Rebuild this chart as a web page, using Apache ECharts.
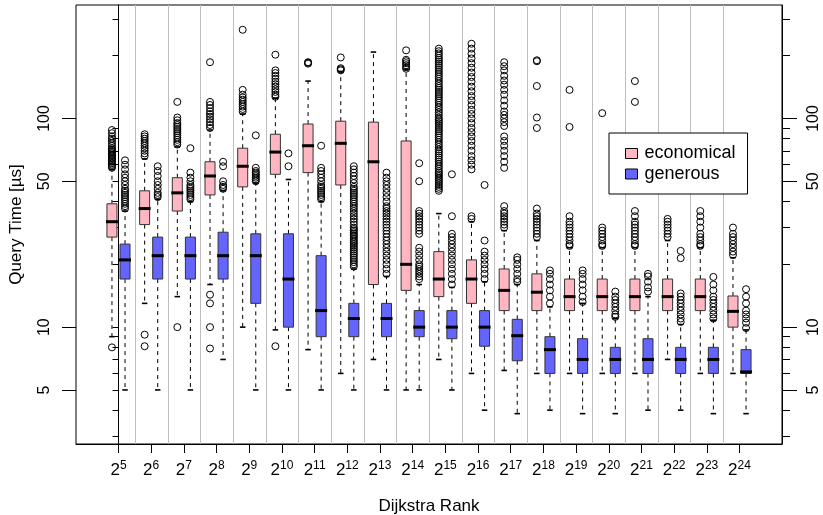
<!DOCTYPE html>
<html><head><meta charset="utf-8">
<script src="https://cdn.jsdelivr.net/npm/echarts@6/dist/echarts.min.js"></script>
<style>html,body{margin:0;padding:0;background:#fff}#c{width:823px;height:515px}</style>
</head><body><div id="c"></div>
<script>
// ---- data ----
const rankExponents = [5,6,7,8,9,10,11,12,13,14,15,16,17,18,19,20,21,22,23,24];
const seriesNames = ['economical', 'generous'];

const econLow  = [9, 13, 14, 16, 10, 9.7, 7.8, 6, 7, 5, 7, 6, 6.2, 6, 6, 6, 6, 7, 6, 6];
const econQ1   = [27, 31, 36, 43, 47, 54, 55, 48, 16, 15, 14, 13, 12, 12, 12, 12, 12, 12, 12, 10];
const econMed  = [32, 37, 44, 53, 59, 69, 74, 76, 62, 20, 17, 17, 15, 14.7, 14, 14, 14, 14, 14, 11.9];
const econQ3   = [39, 45, 52, 62, 72, 84, 94, 97, 96, 78, 23, 21, 19, 18, 17, 17, 17, 17, 17, 14.1];
const econHigh = [57, 64, 73, 88, 105, 125, 151, 168, 208, 172, 35, 32, 29, 26, 24, 24, 24, 26, 24, 21.5];

const genLow  = [5, 5, 5, 7, 5, 5, 5, 5, 5, 5, 5, 4, 3.85, 4, 3.85, 3.85, 4, 4, 3.85, 3.85];
const genQ1   = [17, 17, 17, 17, 13, 10, 9, 9, 9, 9, 8.8, 8.1, 6.9, 6, 6, 6, 6, 6, 6, 6];
const genMed  = [21, 22, 22, 22, 22, 17, 12, 11, 11, 10, 10, 10, 9.1, 7.8, 7, 7, 7, 7, 7, 6.1];
const genQ3   = [25, 27, 27, 28.5, 28, 28, 22, 13, 13, 12, 12, 12, 10.9, 9, 8.8, 8, 8.8, 8, 8, 7.8];
const genHigh = [36, 41, 40, 45, 49, 51, 40, 19, 17.5, 16, 15.5, 16.5, 16, 12.5, 13, 11, 14, 10.3, 10.8, 9.7];

const econOutliers = [
  [8, 58, 59, 60, 61, 62, 63, 64, 65, 66, 67, 68, 69, 70, 71, 72, 74, 76, 78, 80, 82, 85, 88],
  [8.1, 9.2, 66, 68, 70, 72, 74, 76, 78, 80, 82, 84],
  [10, 75, 77, 79, 81, 83, 85, 87, 89, 91, 93, 95, 98, 101, 120],
  [7.9, 10, 13, 14.3, 90, 93, 96, 99, 102, 105, 108, 112, 116, 120, 186],
  [108, 111, 114, 117, 120, 123, 126, 130, 137, 266],
  [8.1, 127, 130, 134, 138, 142, 146, 150, 155, 160, 165, 170, 202],
  [183, 185, 186],
  [170, 172, 174, 196],
  [],
  [173, 176, 180, 184, 188, 191, 212],
  [45, 46, 47, 48, 49, 50, 51, 52, 53, 54, 55, 56, 57.5, 59, 60.5, 62, 63.5, 65, 66.5, 68, 69.5, 71, 73, 75, 77, 79, 81, 83, 85, 87, 89, 91, 93, 95, 97, 99, 101, 104, 107, 110, 113, 116, 119, 122, 125, 128, 131, 134, 137, 140, 143, 147, 151, 155, 159, 163, 167, 171, 175, 179, 183, 187, 191, 195, 200, 205, 210, 216],
  [33, 34, 57, 60, 63, 66, 70, 74, 78, 82, 86, 90, 95, 100, 105, 110, 116, 122, 128, 135, 142, 150, 158, 166, 175, 184, 194, 204, 216, 228],
  [30, 31, 32, 33, 34, 35, 36, 38, 58, 62, 66, 70, 74, 78, 82, 92, 96, 100, 104, 108, 115, 122, 130, 137, 145, 152, 160, 170, 178, 186],
  [27, 28, 29, 30, 31, 32, 33, 34, 35, 37, 90, 101, 143, 188, 190],
  [24.5, 25, 26, 27, 28, 29, 30, 31, 32, 34, 91, 137],
  [24.5, 25, 26, 27, 28, 29, 30, 106],
  [24.5, 25, 26, 27, 28, 29, 30, 31, 32, 34, 36, 120, 151],
  [27, 28, 29, 30, 31, 32, 33],
  [24.5, 25, 26, 27, 28, 30, 32, 34, 36],
  [22.2, 23, 24, 25, 26, 27, 28, 30]
];
const genOutliers = [
  [37, 38, 39, 40, 41, 42, 43, 44, 45, 46, 48, 50, 52, 54, 57, 60, 63],
  [42, 43, 44, 46, 48, 50, 53, 56, 59],
  [41, 42, 43, 44, 45, 46, 47, 48, 50, 52, 55, 72],
  [46, 47, 48, 50, 59, 62],
  [50, 51, 52, 53, 54, 55, 56, 58, 83],
  [59, 68],
  [41, 42, 43, 44, 45, 46, 47, 48, 50, 52, 54, 56, 58, 74],
  [19.5, 20, 20.5, 21, 21.5, 22, 22.5, 23, 23.5, 24, 24.5, 25, 25.5, 26, 26.5, 27, 27.5, 28, 28.5, 29, 29.5, 30, 31, 32, 33, 34, 35, 36, 37, 38, 39, 40, 41, 42, 43, 44, 45, 46, 47, 49, 51, 53, 55, 57, 59],
  [18, 19, 20, 21, 22, 23, 24, 25, 26, 27, 28, 29, 30, 31, 32, 33, 34, 35, 36, 37, 38, 40, 42, 44, 46, 48, 50, 52, 55],
  [17, 17.5, 18, 18.5, 19, 19.5, 20, 21, 22, 23, 24, 28, 29, 30, 31, 32, 33, 34, 35, 36, 50, 61],
  [16, 17, 18, 19, 20, 21, 22, 23, 24, 25, 26, 27, 28, 34, 54],
  [17, 18, 19, 20, 21, 22, 23, 26, 48],
  [16.5, 17, 18, 19, 20, 21, 21.6],
  [13, 14, 15, 16, 17, 18, 18.7],
  [13.2, 14, 15, 16, 17, 18, 18.7],
  [11.2, 11.5, 12, 12.5, 13, 13.5, 14, 14.8],
  [14.8, 15.5, 16.5, 17.5, 18],
  [10.6, 11, 11.5, 12, 12.5, 13, 13.5, 14, 14.5, 21.4, 23.2],
  [11, 11.5, 12, 12.5, 13, 13.5, 14, 15, 16, 17.4],
  [9.9, 10.5, 11, 11.5, 12, 13, 14, 15.2]
];

const yMinorTicks = [3, 4, 5, 6, 7, 8, 9, 10, 20, 30, 40, 50, 60, 70, 80, 90, 100, 200, 300];
const yLabelTicks = [5, 10, 50, 100];

// ---- style / layout ----
const FONT = 'Liberation Sans';
const PINK = '#FFB6C1';
const BLUE = '#6464FF';
const Y_MIN = 2.754, Y_MAX = 349.6;
const X_MIN = -1.3, X_MAX = 20.3;
const OFFSET = 0.2;       // box offset from category centre (x units)
const BOX_HALF = 0.153;   // half box width (x units)

const xTickPos = rankExponents.map((e, i) => i);
const econData = rankExponents.map((e, i) => [i - OFFSET, econLow[i], econQ1[i], econMed[i], econQ3[i], econHigh[i]]);
const genData  = rankExponents.map((e, i) => [i + OFFSET, genLow[i], genQ1[i], genMed[i], genQ3[i], genHigh[i]]);
const econOutData = [], genOutData = [];
econOutliers.forEach((arr, i) => arr.forEach(v => econOutData.push([i - OFFSET, v])));
genOutliers.forEach((arr, i) => arr.forEach(v => genOutData.push([i + OFFSET, v])));
const sepData = rankExponents.slice(1).map((e, i) => [i + 0.5]);

function boxRender(params, api) {
  const x = api.value(0);
  const vals = [api.value(1), api.value(2), api.value(3), api.value(4), api.value(5)];
  const p = vals.map(v => api.coord([x, v]));
  const cx = p[0][0];
  const hw = api.coord([x + BOX_HALF, vals[2]])[0] - cx;
  const sw = hw * 0.55;
  const fill = api.visual('color');
  const whisk = { stroke: '#000', lineWidth: 1, lineDash: [4, 4] };
  const staple = { stroke: '#000', lineWidth: 1.6 };
  return { type: 'group', children: [
    { type: 'line', shape: { x1: cx, y1: p[3][1], x2: cx, y2: p[4][1] }, style: whisk },
    { type: 'line', shape: { x1: cx, y1: p[1][1], x2: cx, y2: p[0][1] }, style: whisk },
    { type: 'line', shape: { x1: cx - sw, y1: p[4][1], x2: cx + sw, y2: p[4][1] }, style: staple },
    { type: 'line', shape: { x1: cx - sw, y1: p[0][1], x2: cx + sw, y2: p[0][1] }, style: staple },
    { type: 'rect', shape: { x: cx - hw, y: p[3][1], width: 2 * hw, height: p[1][1] - p[3][1] },
      style: { fill: fill, stroke: '#333', lineWidth: 1 } },
    { type: 'line', shape: { x1: cx - hw - 1, y1: p[2][1], x2: cx + hw + 1, y2: p[2][1] },
      style: { stroke: '#000', lineWidth: 3 } }
  ]};
}
function sepRender(params, api) {
  const x = Math.round(api.coord([api.value(0), Y_MAX])[0]) + 0.5;
  const cs = params.coordSys;
  return { type: 'line', shape: { x1: x, y1: cs.y, x2: x, y2: cs.y + cs.height },
    style: { stroke: '#BEBEBE', lineWidth: 1 } };
}

const yBase = { type: 'log', min: Y_MIN, max: Y_MAX, splitLine: { show: false } };
const chart = echarts.init(document.getElementById('c'), null, { renderer: 'canvas' });
chart.setOption({
  animation: false,
  backgroundColor: '#fff',
  textStyle: { fontFamily: FONT },
  grid: { left: 76, right: 41, top: 5, bottom: 71, show: true, borderColor: '#000', borderWidth: 1,
    backgroundColor: 'transparent', outerBoundsMode: 'none' },
  legend: {
    left: 609, top: 133, orient: 'vertical', selectedMode: false,
    backgroundColor: '#fff', borderColor: '#000', borderWidth: 1, borderRadius: 0,
    padding: [10.5, 12, 10, 16], itemGap: 0.5, itemWidth: 12, itemHeight: 10,
    textStyle: { fontFamily: FONT, fontSize: 18, color: '#000', lineHeight: 20, padding: [0, 0, 0, 2] },
    data: [
      { name: 'economical', icon: 'rect', itemStyle: { color: PINK, borderColor: '#000', borderWidth: 1 } },
      { name: 'generous', icon: 'rect', itemStyle: { color: BLUE, borderColor: '#000', borderWidth: 1 } }
    ]
  },
  xAxis: {
    type: 'value', min: X_MIN, max: X_MAX,
    axisLine: { show: true, lineStyle: { color: '#000', width: 1 } },
    axisTick: { show: true, length: 9, customValues: xTickPos, lineStyle: { color: '#000', width: 1 } },
    axisLabel: {
      customValues: xTickPos, margin: 16, color: '#000',
      formatter: v => '{b|2}{s|' + rankExponents[Math.round(v)] + '}',
      rich: {
        b: { fontFamily: FONT, fontSize: 17, lineHeight: 21, color: '#000' },
        s: { fontFamily: FONT, fontSize: 12, lineHeight: 13, verticalAlign: 'top', color: '#000' }
      }
    },
    splitLine: { show: false },
    name: 'Dijkstra Rank', nameLocation: 'middle', nameGap: 54,
    nameTextStyle: { fontFamily: FONT, fontSize: 17, color: '#000' }
  },
  yAxis: [
    Object.assign({}, yBase, { position: 'left',
      axisLine: { show: true, lineStyle: { color: '#000', width: 1 } },
      axisTick: { show: true, length: 6, customValues: yMinorTicks, lineStyle: { color: '#000' } },
      axisLabel: { show: false } }),
    Object.assign({}, yBase, { position: 'left',
      axisLine: { show: false },
      axisTick: { show: true, length: 14, customValues: yLabelTicks, lineStyle: { color: '#000' } },
      axisLabel: { show: true, customValues: yLabelTicks, rotate: 90, margin: 23, fontSize: 16, color: '#000', fontFamily: FONT },
      name: 'Query Time [\u00b5s]', nameLocation: 'middle', nameRotate: 90, nameGap: 51,
      nameTextStyle: { fontFamily: FONT, fontSize: 17, color: '#000' } }),
    Object.assign({}, yBase, { position: 'right',
      axisLine: { show: true, lineStyle: { color: '#000', width: 1 } },
      axisTick: { show: true, length: 8, customValues: yMinorTicks, lineStyle: { color: '#000' } },
      axisLabel: { show: false } }),
    Object.assign({}, yBase, { position: 'right',
      axisLine: { show: false },
      axisTick: { show: true, length: 15, customValues: yLabelTicks, lineStyle: { color: '#000' } },
      axisLabel: { show: true, customValues: yLabelTicks, rotate: 90, margin: 24, fontSize: 16, color: '#000', fontFamily: FONT } })
  ],
  series: [
    { type: 'custom', name: 'separators', renderItem: sepRender, data: sepData, silent: true, z: 1,
      encode: { x: 0 } },
    { type: 'custom', name: seriesNames[0], renderItem: boxRender, data: econData, z: 2,
      itemStyle: { color: PINK }, encode: { x: 0, y: [1, 2, 3, 4, 5] } },
    { type: 'custom', name: seriesNames[1], renderItem: boxRender, data: genData, z: 2,
      itemStyle: { color: BLUE }, encode: { x: 0, y: [1, 2, 3, 4, 5] } },
    { type: 'scatter', name: 'economical outliers', data: econOutData, symbol: 'circle', symbolSize: 7, z: 3,
      itemStyle: { color: 'transparent', borderColor: '#000', borderWidth: 1, opacity: 1 } },
    { type: 'scatter', name: 'generous outliers', data: genOutData, symbol: 'circle', symbolSize: 7, z: 3,
      itemStyle: { color: 'transparent', borderColor: '#000', borderWidth: 1, opacity: 1 } }
  ]
});
</script></body></html>
